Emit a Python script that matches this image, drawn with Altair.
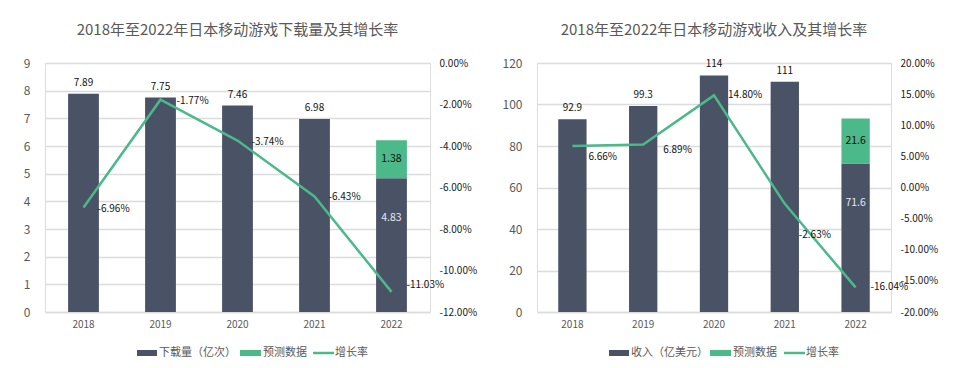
import altair as alt
import pandas as pd

# ---------------- data ----------------
years = ["2018", "2019", "2020", "2021", "2022"]

downloads = [7.89, 7.75, 7.46, 6.98, 4.83]
downloads_forecast = [0, 0, 0, 0, 1.38]
downloads_growth = [-6.96, -1.77, -3.74, -6.43, -11.03]

revenue = [92.9, 99.3, 114, 111, 71.6]
revenue_forecast = [0, 0, 0, 0, 21.6]
revenue_growth = [6.66, 6.89, 14.80, -2.63, -16.04]

title_left = "2018年至2022年日本移动游戏下载量及其增长率"
title_right = "2018年至2022年日本移动游戏收入及其增长率"
legend_left = ["下载量（亿次）", "预测数据", "增长率"]
legend_right = ["收入（亿美元）", "预测数据", "增长率"]

left_ticks_dl = list(range(0, 10))
right_ticks_dl = [-12, -10, -8, -6, -4, -2, 0]
left_ticks_rev = [0, 20, 40, 60, 80, 100, 120]
right_ticks_rev = [-20, -15, -10, -5, 0, 5, 10, 15, 20]

# ---------------- style ----------------
DARK = "#4a5266"
GREEN = "#4bb98a"
GRAY = "#595959"
GRID = "#dcdcdc"
FONT = "Noto Sans CJK SC"

# label offsets (style) for growth-rate labels
dl_label_dx = [14, 16, 14, 14, 15]
dl_label_dy = [2, 1, 1, 1, -7]
rev_label_dx = [16, 20, 14, 14, 15]
rev_label_dy = [11, 5, 0, 31, 0]


def pct_expr(field):
    return f"(datum.{field} < 0 ? '-' : '') + format(abs(datum.{field}), '.2f') + '%'"


def panel(title, vals, fc, growth, left_ticks, right_ticks, width, legend_names,
          legend_x, gdx, gdy):
    df = pd.DataFrame({"year": years, "value": vals, "forecast": fc, "growth": growth})
    df["top"] = df["value"] + df["forecast"]
    df["mid"] = df["value"] + df["forecast"] / 2
    base = alt.Chart(df)

    xaxis = alt.Axis(title=None, labelAngle=0, ticks=False, domain=True,
                     domainColor=GRID, domainWidth=1.5, labelColor=GRAY,
                     labelFontSize=10, labelPadding=7, labelFont=FONT)
    xscale = alt.Scale(paddingInner=0.6, paddingOuter=0.3)
    x = alt.X("year:N", scale=xscale, axis=xaxis)

    yscale = alt.Scale(domain=[left_ticks[0], left_ticks[-1]], nice=False)
    laxis = alt.Axis(title=None, values=left_ticks, grid=True, gridColor=GRID,
                     gridWidth=1.5, domain=False, ticks=False, labelColor=GRAY,
                     labelFontSize=12, labelPadding=15, minExtent=32, maxExtent=32,
                     labelOverlap=False, labelFont=FONT)

    def yl(field):
        return alt.Y(field, scale=yscale, axis=laxis)

    bars = base.mark_bar(color=DARK).encode(x=x, y=yl("value:Q"))
    bars_fc = base.transform_filter("datum.forecast > 0").mark_bar(color=GREEN).encode(
        x=x, y=yl("value:Q"), y2="top:Q")
    lbl_above = base.transform_filter("datum.forecast == 0").mark_text(
        dy=-11, fontSize=10, color="#111", font=FONT).encode(
        x=x, y=yl("value:Q"), text=alt.Text("value:Q", format=".3~g"))
    lbl_inside = base.transform_filter("datum.forecast > 0").mark_text(
        dy=40, fontSize=10.5, color="#e4e8f0", font=FONT).encode(
        x=x, y=yl("value:Q"), text=alt.Text("value:Q", format=".3~g"))
    lbl_fc = base.transform_filter("datum.forecast > 0").mark_text(
        fontSize=10.5, color="#111", font=FONT).encode(
        x=x, y=yl("mid:Q"), text=alt.Text("forecast:Q", format=".3~g"))
    left_group = alt.layer(bars, bars_fc, lbl_above, lbl_inside, lbl_fc)

    rscale = alt.Scale(domain=[right_ticks[0], right_ticks[-1]], nice=False)
    raxis = alt.Axis(title=None, orient="right", values=right_ticks, grid=False,
                     domain=False, ticks=False, labelColor="#222", labelFontSize=10,
                     labelPadding=9,
                     labelExpr="(datum.value < 0 ? '-' : '') + format(abs(datum.value), '.2f') + '%'",
                     minExtent=50, maxExtent=50, labelOverlap=False, labelFont=FONT)
    yr = alt.Y("growth:Q", scale=rscale, axis=raxis)

    line = base.mark_line(color=GREEN, strokeWidth=2.5).encode(x=x, y=yr)
    glabels = []
    for i, yr_name in enumerate(years):
        glabels.append(
            base.transform_filter(f"datum.year == '{yr_name}'")
            .transform_calculate(lbl=pct_expr("growth"))
            .mark_text(align="left", baseline="middle", dx=gdx[i], dy=gdy[i],
                       fontSize=10, color="#111", font=FONT)
            .encode(x=x, y=yr, text="lbl:N")
        )
    right_group = alt.layer(line, *glabels)

    one = pd.DataFrame({"a": [0]})
    lx = legend_x
    ly = 290
    leg = [
        alt.Chart(one).mark_rule(color=DARK, strokeWidth=6, strokeCap="butt").encode(
            x=alt.value(lx[0]), x2=alt.value(lx[0] + 20), y=alt.value(ly)),
        alt.Chart(one).mark_rule(color=GREEN, strokeWidth=6, strokeCap="butt").encode(
            x=alt.value(lx[1]), x2=alt.value(lx[1] + 21), y=alt.value(ly)),
        alt.Chart(one).mark_rule(color=GREEN, strokeWidth=2.5).encode(
            x=alt.value(lx[2]), x2=alt.value(lx[2] + 21), y=alt.value(ly)),
    ]
    for i, name in enumerate(legend_names):
        off = 22 if i != 1 else 23
        leg.append(
            alt.Chart(one).mark_text(align="left", baseline="middle", fontSize=11,
                                     color=GRAY, font=FONT).encode(
                x=alt.value(lx[i] + off), y=alt.value(ly), text=alt.value(name))
        )

    return alt.layer(left_group, right_group, *leg).resolve_scale(y="independent").properties(
        width=width, height=249,
        title=alt.Title(title, fontSize=15, fontWeight="normal", color=GRAY, font=FONT,
                        offset=19, anchor="middle"),
    )


left = panel(title_left, downloads, downloads_forecast, downloads_growth,
             left_ticks_dl, right_ticks_dl, 385, legend_left, [92, 195, 268],
             dl_label_dx, dl_label_dy)
right = panel(title_right, revenue, revenue_forecast, revenue_growth,
              left_ticks_rev, right_ticks_rev, 354, legend_right, [72, 173, 247],
              rev_label_dx, rev_label_dy)

chart = alt.hconcat(left, right, spacing=20).properties(
    padding={"left": 4, "right": 5, "top": 14, "bottom": 5}
).configure_view(strokeWidth=0).configure(font=FONT)

chart.save("out.html", embed_options={"renderer": "svg", "actions": False})
